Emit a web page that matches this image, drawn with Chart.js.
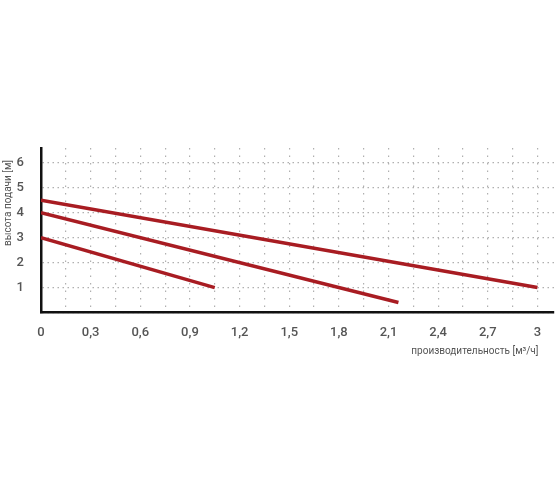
<!DOCTYPE html>
<html>
<head>
<meta charset="utf-8">
<script src="https://cdn.jsdelivr.net/npm/chart.js@4.4.0/dist/chart.umd.min.js"></script>
<style>
html,body{margin:0;padding:0;background:#fff;}
#wrap{width:560px;height:504px;position:relative;}
</style>
</head>
<body>
<div id="wrap"><canvas id="c"></canvas></div>
<script>
// Data
const curve1 = [{x:0, y:4.5}, {x:3.0, y:1.0}];
const curve2 = [{x:0, y:4.0}, {x:2.16, y:0.4}];
const curve3 = [{x:0, y:3.0}, {x:1.05, y:1.0}];
const xTicks = [0,0.15,0.3,0.45,0.6,0.75,0.9,1.05,1.2,1.35,1.5,1.65,1.8,1.95,2.1,2.25,2.4,2.55,2.7,2.85,3];
const xTickLabels = {0:'0',0.3:'0,3',0.6:'0,6',0.9:'0,9',1.2:'1,2',1.5:'1,5',1.8:'1,8',2.1:'2,1',2.4:'2,4',2.7:'2,7',3:'3'};
const yTicks = [0,1,2,3,4,5,6];
const yTickLabels = {1:'1',2:'2',3:'3',4:'4',5:'5',6:'6'};
const xTitle = 'производительность [м³/ч]';
const yTitle = 'высота подачи [м]';

const lineColor = '#a81c22';
const mkSet = d => ({data:d, borderColor:lineColor, borderWidth:3.5, pointRadius:0, fill:false, tension:0, borderCapStyle:'butt'});

const titlePlugin = {
  id:'titles',
  afterDraw(chart){
    const ctx = chart.ctx;
    const xs = chart.scales.x;
    ctx.save();
    ctx.fillStyle = '#555';
    ctx.font = '10px Roboto';
    ctx.textAlign = 'right';
    ctx.textBaseline = 'middle';
    ctx.fillText(xTitle, xs.getPixelForValue(3) + 1, 351);
    ctx.translate(8, 203);
    ctx.rotate(-Math.PI/2);
    ctx.textAlign = 'center';
    ctx.fillText(yTitle, 0, 0);
    ctx.restore();
  }
};

new Chart(document.getElementById('c'), {
  type:'line',
  data:{datasets:[mkSet(curve1), mkSet(curve2), mkSet(curve3)]},
  options:{
    responsive:true, maintainAspectRatio:false, animation:false,
    layout:{padding:{left:0, top:148, right:6, bottom:141.5}},
    plugins:{legend:{display:false}, tooltip:{enabled:false}},
    scales:{
      x:{
        type:'linear', min:0, max:3.1,
        afterBuildTicks: s => { s.ticks = xTicks.map(v => ({value:v})); },
        afterFit: s => { s.height = 50; },
        ticks:{
          autoSkip:false, maxRotation:0, padding:12,
          color:'#555', font:{family:'Roboto', size:13, weight:'500'},
          callback: v => { const k = Object.keys(xTickLabels).find(t => Math.abs(+t - v) < 1e-6); return k !== undefined ? xTickLabels[k] : ''; }
        },
        grid:{drawTicks:false, color:'#b0b0b0', lineWidth:1.2, tickBorderDash:[1.5,6]},
        border:{display:true, color:'#111', width:2.5, dash:[1.5,6]},
      },
      y:{
        type:'linear', min:0, max:6.6,
        afterBuildTicks: s => { s.ticks = yTicks.map(v => ({value:v})); },
        afterFit: s => { s.width = 41; },
        ticks:{
          autoSkip:false, padding:17,
          color:'#555', font:{family:'Roboto', size:13, weight:'500'},
          callback: v => yTickLabels[v] || ''
        },
        grid:{drawTicks:false, color:'#b0b0b0', lineWidth:1.2},
        border:{display:true, color:'#111', width:2.5, dash:[1.5,3.5]},
      }
    }
  },
  plugins:[titlePlugin]
});
</script>
</body>
</html>
